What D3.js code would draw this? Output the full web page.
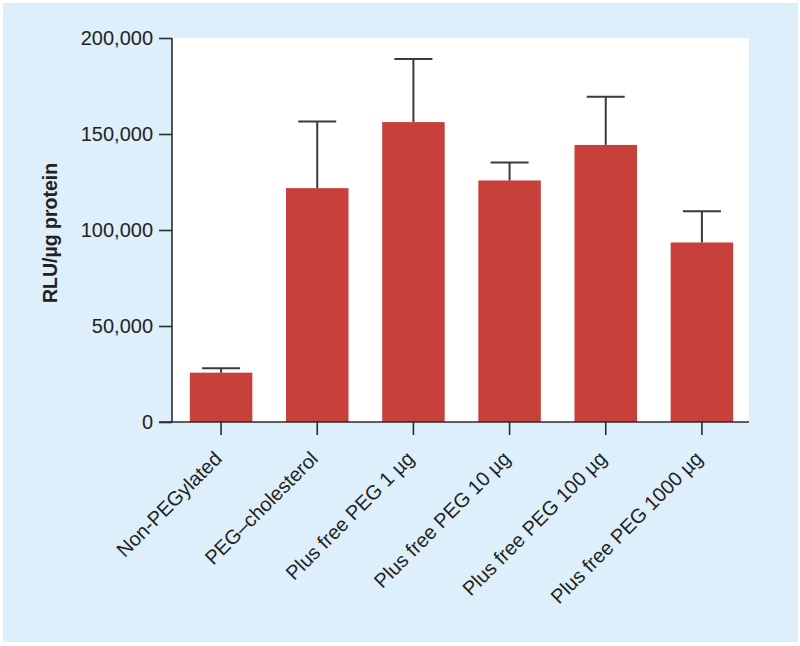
<!DOCTYPE html>
<html>
<head>
<meta charset="utf-8">
<script src="https://cdn.jsdelivr.net/npm/d3@7"></script>
<style>
  body { margin: 0; background: #fff; }
  svg { display: block; font-family: "Liberation Sans", Arial, sans-serif; }
</style>
</head>
<body>
<div id="chart"></div>
<script>
var categories = ['Non-PEGylated', 'PEG\u2013cholesterol', 'Plus free PEG 1 \u00b5g',
    'Plus free PEG 10 \u00b5g', 'Plus free PEG 100 \u00b5g', 'Plus free PEG 1000 \u00b5g'];
var means = [25700, 121800, 156200, 125800, 144300, 93500];
var errors = [2300, 34700, 32900, 9300, 25100, 16300];
var yTicks = [0, 50000, 100000, 150000, 200000];

var width = 800, height = 646;
var plotLeft = 172, plotRight = 749, plotTop = 38, plotBottom = 422;

var svg = d3.select('#chart')
    .append('svg')
    .attr('width', width)
    .attr('height', height);

// background panel
svg.append('rect')
    .attr('x', 3).attr('y', 3)
    .attr('width', 795).attr('height', 639)
    .attr('fill', '#ddeffb');

svg.append('rect')
    .attr('x', plotLeft).attr('y', plotTop)
    .attr('width', plotRight - plotLeft).attr('height', plotBottom - plotTop)
    .attr('fill', '#fff');

var x = d3.scaleBand()
    .domain(categories)
    .range([plotLeft + 1, plotRight + 1])
    .paddingInner(0.35)
    .paddingOuter(0.175);

var y = d3.scaleLinear()
    .domain([0, 200000])
    .range([plotBottom, plotTop]);

// bars
svg.append('g')
    .selectAll('rect')
    .data(categories)
    .join('rect')
    .attr('x', d => x(d))
    .attr('y', (d, i) => y(means[i]))
    .attr('width', x.bandwidth())
    .attr('height', (d, i) => y(0) - y(means[i]))
    .attr('fill', '#c8403a');

// error bars
var err = svg.append('g')
    .attr('stroke', '#3a3a3a')
    .attr('stroke-width', 2);

categories.forEach((c, i) => {
    var cx = x(c) + x.bandwidth() / 2;
    err.append('line')
        .attr('x1', cx).attr('x2', cx)
        .attr('y1', y(means[i])).attr('y2', y(means[i] + errors[i]));
    err.append('line')
        .attr('x1', cx - 19).attr('x2', cx + 19)
        .attr('y1', y(means[i] + errors[i])).attr('y2', y(means[i] + errors[i]));
});

// y axis
var yAxis = svg.append('g')
    .attr('transform', `translate(${plotLeft},0)`)
    .call(d3.axisLeft(y)
        .tickValues(yTicks)
        .tickSize(13)
        .tickPadding(6)
        .tickFormat(d3.format(',')));

yAxis.select('.domain')
    .attr('d', `M0,${plotTop}V${plotBottom}`);

// x axis
var xAxis = svg.append('g')
    .attr('transform', `translate(0,${plotBottom})`)
    .call(d3.axisBottom(x).tickSize(13).tickFormat(''));

xAxis.select('.domain')
    .attr('d', `M${plotLeft - 13},0H${plotRight}`);

svg.selectAll('.domain, .tick line')
    .attr('stroke', '#2b2b2b')
    .attr('stroke-width', 1.6);

yAxis.selectAll('text')
    .attr('font-size', 20)
    .attr('fill', '#222');

// rotated category labels
svg.append('g')
    .selectAll('text')
    .data(categories)
    .join('text')
    .attr('transform', d => `translate(${x(d) + x.bandwidth() / 2 + 2},${plotBottom + 38}) rotate(-45)`)
    .attr('text-anchor', 'end')
    .attr('font-size', 20)
    .attr('fill', '#222')
    .text(d => d);

// y label
svg.append('text')
    .attr('transform', 'translate(57,233) rotate(-90)')
    .attr('text-anchor', 'middle')
    .attr('font-size', 19.5)
    .attr('font-weight', 'bold')
    .attr('fill', '#222')
    .text('RLU/\u00b5g protein');
</script>
</body>
</html>
